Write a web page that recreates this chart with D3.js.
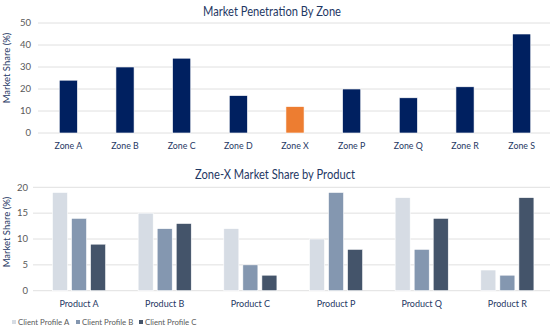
<!DOCTYPE html>
<html><head><meta charset="utf-8">
<script src="https://cdn.jsdelivr.net/npm/d3@7"></script>
<style>body{margin:0;background:#fff}svg{display:block;font-family:Lato,"Open Sans",sans-serif}</style>
</head><body><svg id="c" width="550" height="330"></svg>
<script>
const zones = ["Zone A","Zone B","Zone C","Zone D","Zone X","Zone P","Zone Q","Zone R","Zone S"];
const zoneValues = [24,30,34,17,12,20,16,21,45];
const highlightZone = "Zone X";
const topTicks = [0,10,20,30,40,50];

const products = ["Product A","Product B","Product C","Product P","Product Q","Product R"];
const profiles = ["Client Profile A","Client Profile B","Client Profile C"];
const profileA = [19,15,12,10,18,4];
const profileB = [14,12,5,19,8,3];
const profileC = [9,13,3,8,14,18];
const bottomTicks = [0,5,10,15,20];

const navy="#002060", orange="#ED7D31", titleCol="#1F3864", tickCol="#595959", gridCol="#E0E0E0";
const profColors=["#D6DCE4","#8497B0","#44546A"];
const svg=d3.select("#c");

// ---- Top chart
const tx=d3.scaleBand().domain(zones).range([40,550]).paddingInner(0.68).paddingOuter(0.34);
const ty=d3.scaleLinear().domain([0,50]).range([133,23]);
const gTop=svg.append("g");
gTop.selectAll("line.g").data(topTicks).join("line")
  .attr("x1",38).attr("x2",550).attr("y1",d=>ty(d)).attr("y2",d=>ty(d))
  .attr("stroke",gridCol).attr("stroke-width",1);
gTop.selectAll("text.yt").data(topTicks).join("text")
  .attr("x",31).attr("y",d=>ty(d)+3.3).attr("text-anchor","end")
  .attr("font-size",9.5).attr("fill",tickCol).text(d=>d);
gTop.selectAll("rect").data(zones).join("rect")
  .attr("x",d=>tx(d)).attr("width",tx.bandwidth())
  .attr("y",(d,i)=>ty(zoneValues[i])).attr("height",(d,i)=>ty(0)-ty(zoneValues[i]))
  .attr("fill",d=>d===highlightZone?orange:navy).attr("stroke","#fff").attr("stroke-width",0.6);
gTop.selectAll("text.xl").data(zones).join("text")
  .attr("x",d=>tx(d)+tx.bandwidth()/2).attr("y",149).attr("text-anchor","middle")
  .attr("font-size",8.8).attr("fill",titleCol).text(d=>d);
svg.append("text").attr("x",272).attr("y",15.5).attr("text-anchor","middle")
  .attr("font-size",13.5).attr("fill",titleCol)
  .attr("textLength",138).attr("lengthAdjust","spacingAndGlyphs").text("Market Penetration By Zone");
svg.append("text").attr("transform","translate(10,68) rotate(-90)").attr("text-anchor","middle")
  .attr("font-size",9.5).attr("fill",titleCol).text("Market Share (%)");

// ---- Bottom chart
const bx=d3.scaleBand().domain(products).range([36.2,550.2]).paddingInner(0.38).paddingOuter(0.19);
const bs=d3.scaleBand().domain(profiles).range([0,bx.bandwidth()]).paddingInner(0.21).paddingOuter(0);
const by=d3.scaleLinear().domain([0,20]).range([290.7,187.3]);
const series=[profileA,profileB,profileC];
const gBot=svg.append("g");
gBot.selectAll("line.g").data(bottomTicks).join("line")
  .attr("x1",33).attr("x2",550).attr("y1",d=>by(d)).attr("y2",d=>by(d))
  .attr("stroke",gridCol).attr("stroke-width",1);
gBot.selectAll("text.yt").data(bottomTicks).join("text")
  .attr("x",28).attr("y",d=>by(d)+3.3).attr("text-anchor","end")
  .attr("font-size",9.5).attr("fill",tickCol).text(d=>d);
profiles.forEach((p,k)=>{
  gBot.append("g").selectAll("rect").data(products).join("rect")
    .attr("x",d=>bx(d)+bs(p)).attr("width",bs.bandwidth())
    .attr("y",(d,i)=>by(series[k][i])).attr("height",(d,i)=>by(0)-by(series[k][i]))
    .attr("fill",profColors[k]).attr("stroke","#fff").attr("stroke-width",0.6);
});
gBot.selectAll("text.xl").data(products).join("text")
  .attr("x",d=>bx(d)+bx.bandwidth()/2).attr("y",306.5).attr("text-anchor","middle")
  .attr("font-size",9).attr("fill",titleCol).text(d=>d);
svg.append("text").attr("x",275).attr("y",179).attr("text-anchor","middle")
  .attr("font-size",13.5).attr("fill",titleCol)
  .attr("textLength",160).attr("lengthAdjust","spacingAndGlyphs").text("Zone-X Market Share by Product");
svg.append("text").attr("transform","translate(10,232) rotate(-90)").attr("text-anchor","middle")
  .attr("font-size",9.5).attr("fill",titleCol).text("Market Share (%)");

// legend
const legX=[12,76,139];
const leg=svg.append("g");
profiles.forEach((p,k)=>{
  leg.append("rect").attr("x",legX[k]).attr("y",320).attr("width",4).attr("height",4).attr("fill",profColors[k]);
  leg.append("text").attr("x",legX[k]+6).attr("y",325).attr("font-size",7.8).attr("fill",tickCol).text(p);
});
</script></body></html>
